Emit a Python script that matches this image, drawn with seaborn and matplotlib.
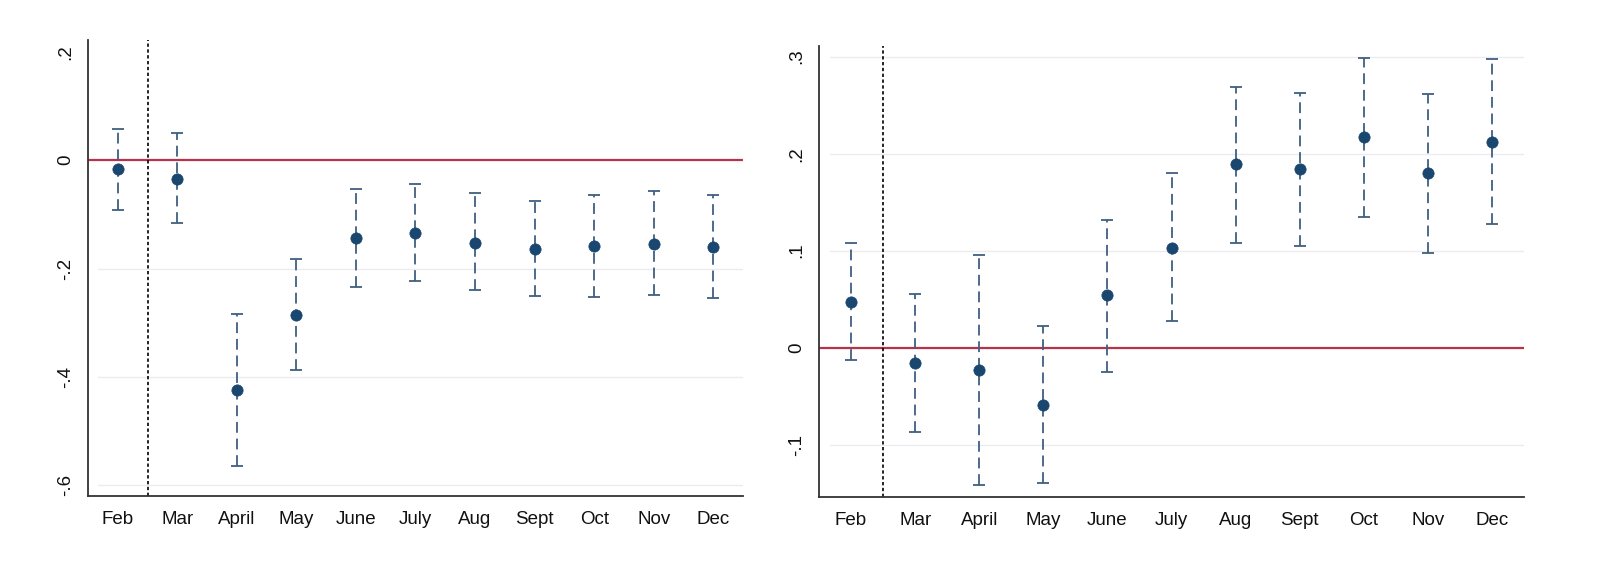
import numpy as np
import pandas as pd
import matplotlib
matplotlib.use("Agg")
import matplotlib.pyplot as plt
import seaborn as sns

months = ["Feb", "Mar", "April", "May", "June", "July", "Aug", "Sept", "Oct", "Nov", "Dec"]

left_est = [-0.017, -0.034, -0.424, -0.286, -0.143, -0.135, -0.152, -0.164, -0.159, -0.154, -0.160]
left_hi = [0.058, 0.051, -0.284, -0.183, -0.053, -0.044, -0.061, -0.075, -0.065, -0.057, -0.065]
left_lo = [-0.091, -0.116, -0.565, -0.388, -0.234, -0.223, -0.239, -0.250, -0.252, -0.248, -0.254]

right_est = [0.047, -0.016, -0.023, -0.059, 0.054, 0.103, 0.189, 0.184, 0.217, 0.180, 0.212]
right_hi = [0.108, 0.055, 0.096, 0.022, 0.132, 0.180, 0.269, 0.263, 0.299, 0.262, 0.298]
right_lo = [-0.013, -0.087, -0.142, -0.140, -0.025, 0.027, 0.108, 0.105, 0.135, 0.098, 0.127]

left_yticks = [0.2, 0.0, -0.2, -0.4, -0.6]
left_yticklabels = [".2", "0", "-.2", "-.4", "-.6"]
right_yticks = [0.3, 0.2, 0.1, 0.0, -0.1]
right_yticklabels = [".3", ".2", ".1", "0", "-.1"]

sns.set_style("white")
plt.rcParams["font.family"] = ["Liberation Sans", "DejaVu Sans"]

fig = plt.figure(figsize=(16.08, 5.62), dpi=100)
ax1 = fig.add_axes([88 / 1608, 1 - 496 / 562, 655 / 1608, 456 / 562])
ax2 = fig.add_axes([819 / 1608, 1 - 497 / 562, 705 / 1608, 451 / 562])

NAVY = "#1a476f"
BAR = "#3f5f80"
RED = "#b8334a"


def panel(ax, est, lo, hi, yticks, yticklabels, ylim, grid_ticks):
    df = pd.DataFrame({"pos": np.arange(len(months)), "month": months,
                       "est": est, "lo": lo, "hi": hi})
    for t in grid_ticks:
        ax.axhline(t, xmin=0.015, color="#ececf0", lw=1.0, zorder=0)
    ax.axhline(0, color=RED, lw=1.6, zorder=1)
    ax.axvline(0.5, color="black", lw=1.2, ls=(0, (2.0, 1.5)), zorder=1)
    yerr = np.vstack([df["est"] - df["lo"], df["hi"] - df["est"]])
    eb = ax.errorbar(df["pos"], df["est"], yerr=yerr, fmt="none", ecolor=BAR,
                     elinewidth=1.3, capsize=4.5, capthick=1.3, zorder=2)
    for lc in eb[2]:
        lc.set_linestyle((0, (6, 3.2)))
    sns.scatterplot(data=df, x="pos", y="est", ax=ax, color=NAVY, s=66,
                    edgecolor=NAVY, linewidth=0.5, zorder=3, legend=False)
    ax.set_xlim(-0.5, 10.5)
    ax.set_ylim(*ylim)
    ax.set_xticks(df["pos"])
    ax.set_xticklabels(months, fontsize=13.5)
    ax.set_yticks(yticks)
    ax.set_yticklabels(yticklabels, fontsize=13.5, rotation=90, va="center")
    ax.set_xlabel("")
    ax.set_ylabel("")
    for s in ["top", "right"]:
        ax.spines[s].set_visible(False)
    for s in ["left", "bottom"]:
        ax.spines[s].set_color("#333333")
        ax.spines[s].set_linewidth(1.3)
    ax.tick_params(axis="both", direction="out", length=6, width=1.0,
                   color="#555555", labelcolor="#111111", pad=4)
    ax.tick_params(axis="x", pad=5)


panel(ax1, left_est, left_lo, left_hi, left_yticks, left_yticklabels, (-0.620, 0.222),
      [-0.2, -0.4, -0.6])
panel(ax2, right_est, right_lo, right_hi, right_yticks, right_yticklabels, (-0.154, 0.311),
      right_yticks)

fig.savefig("out.png", dpi=100, facecolor="white")
